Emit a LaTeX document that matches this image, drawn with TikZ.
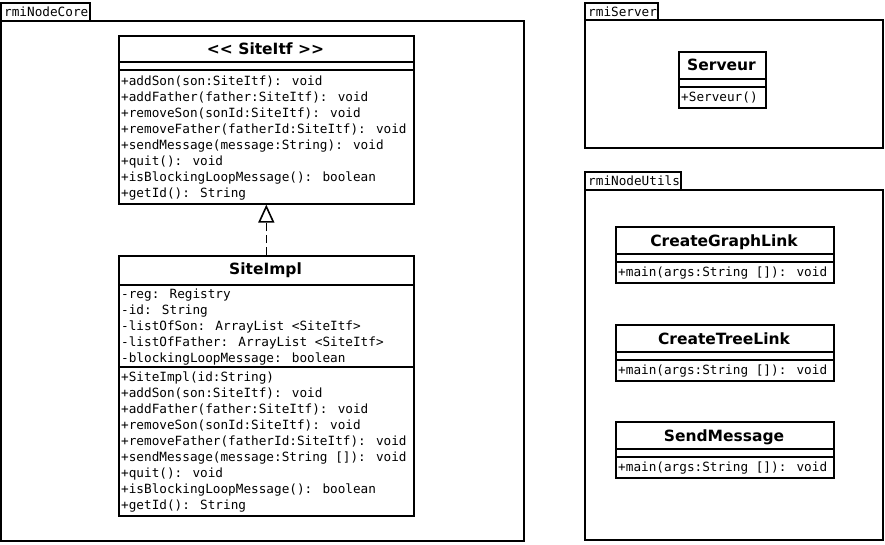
\documentclass[tikz,border=0pt]{standalone}
\usepackage{fontspec}
\setmainfont{DejaVu Sans}
\newfontfamily\umlmono{DejaVu Sans Mono}
\usetikzlibrary{arrows.meta}
\tikzset{
  umlbox/.style={draw, line width=1.6pt, inner sep=0pt, anchor=north west},
  umlpkg/.style={line width=1.6pt},
  umltitle/.style={font=\fontsize{15.5}{18}\selectfont\bfseries, anchor=base, inner sep=0pt},
  umlline/.style={font=\umlmono\fontsize{12.7}{16}\selectfont, anchor=base west, inner sep=0pt},
  realize/.style={line width=1.6pt, dash pattern=on 8pt off 4pt, -{Triangle[open, length=18pt, width=16pt]}},
}

\begin{document}
\begin{tikzpicture}[x=1pt, y=-1pt]
    \useasboundingbox (0,0) rectangle (885,544);
    % packages
    \draw[umlpkg] (1,3) rectangle (90,21);
    \draw[umlpkg] (1,21) rectangle (524,541);
    \node[umlline] (coretab) at (4,16) {rmiNodeCore};
    \draw[umlpkg] (585,3) rectangle (658,20);
    \draw[umlpkg] (585,20) rectangle (883,148);
    \node[umlline] (servertab) at (588,16) {rmiServer};
    \draw[umlpkg] (585,172) rectangle (681,190);
    \draw[umlpkg] (585,190) rectangle (883,540);
    \node[umlline] (utilstab) at (588,185) {rmiNodeUtils};

    % SiteItf
    \node[umlbox, minimum width=295pt, minimum height=168pt] (siteitf) at (118,35) {};
    \node[umltitle] (itftitle) at (265.5,54) {<\kern0pt< SiteItf >\kern0pt>};
    \draw[umlpkg] (118,62) -- (413,62) (118,70) -- (413,70);
    \foreach \txt [count=\i from 0] in {+addSon(son:SiteItf): void, +addFather(father:SiteItf): void,
        +removeSon(sonId:SiteItf): void, +removeFather(fatherId:SiteItf): void,
        +sendMessage(message:String): void, +quit(): void,
        +isBlockingLoopMessage(): boolean, +getId(): String}{
        \node[umlline] (itfop\i) at (121,{85+16*\i}) {\txt};
    }

    % SiteImpl
    \node[umlbox, minimum width=295pt, minimum height=260pt] (siteimpl) at (118,255) {};
    \node[umltitle] (impltitle) at (265.5,274) {SiteImpl};
    \draw[umlpkg] (118,285) -- (413,285) (118,367) -- (413,367);
    \foreach \txt [count=\i from 0] in {-reg: Registry, -id: String, -listOfSon: ArrayList <SiteItf>,
        -listOfFather: ArrayList <SiteItf>, -blockingLoopMessage: boolean}{
        \node[umlline] (implattr\i) at (121,{298+16*\i}) {\txt};
    }
    \foreach \txt [count=\i from 0] in {+SiteImpl(id:String), +addSon(son:SiteItf): void,
        +addFather(father:SiteItf): void, +removeSon(sonId:SiteItf): void,
        +removeFather(fatherId:SiteItf): void, +sendMessage(message:String []): void,
        +quit(): void, +isBlockingLoopMessage(): boolean, +getId(): String}{
        \node[umlline] (implop\i) at (121,{381+16*\i}) {\txt};
    }
    \draw[realize] (siteimpl.north) -- (siteimpl.north |- siteitf.south);

    % Serveur
    \node[umlbox, minimum width=87pt, minimum height=56pt] (serveur) at (678,51) {};
    \node[umltitle] (servtitle) at (721.5,70) {Serveur};
    \draw[umlpkg] (678,79) -- (765,79) (678,87) -- (765,87);
    \node[umlline] (servop) at (681,101) {+Serveur()};

    % utils classes
    \foreach \nm/\ttl/\top in {graphlink/CreateGraphLink/226, treelink/CreateTreeLink/324, sendmsg/SendMessage/421}{
        \node[umlbox, minimum width=218pt, minimum height=56pt] (\nm) at (615,\top) {};
        \node[umltitle] (\nm title) at (724,{\top+20}) {\ttl};
        \draw[umlpkg] (615,\top+28) -- (833,\top+28) (615,\top+36) -- (833,\top+36);
        \node[umlline] (\nm op) at (618,{\top+50}) {+main(args:String []): void};
    }
\end{tikzpicture}
\end{document}
